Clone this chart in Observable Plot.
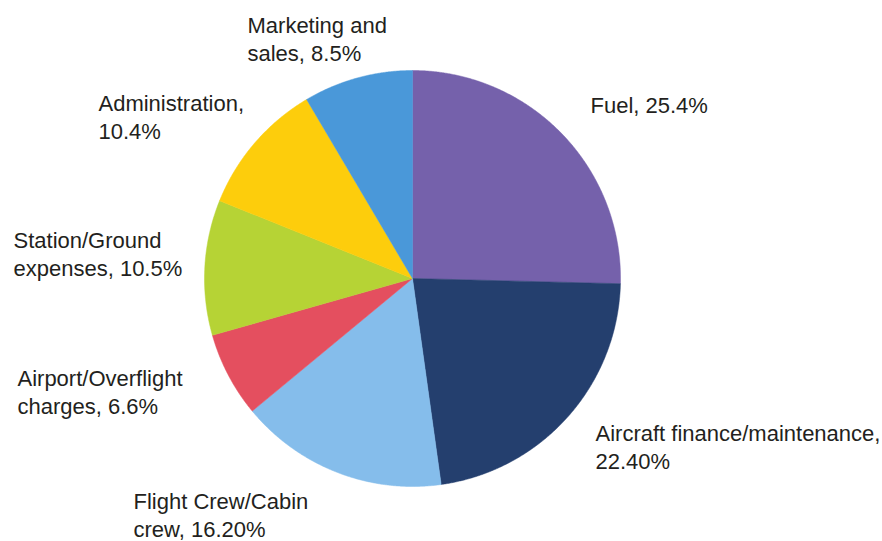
<!DOCTYPE html>
<html>
<head>
<meta charset="utf-8">
<script src="https://cdn.jsdelivr.net/npm/d3@7"></script>
<script src="https://cdn.jsdelivr.net/npm/@observablehq/plot@0.6"></script>
<style>
  html, body { margin: 0; padding: 0; background: #ffffff; }
  #chart { width: 882px; height: 541px; }
</style>
</head>
<body>
<div id="chart"></div>
<script>
// ---- data ----
const categories = ["Fuel", "Aircraft finance/maintenance", "Flight Crew/Cabin crew", "Airport/Overflight charges", "Station/Ground expenses", "Administration", "Marketing and sales"];
const shares = [25.4, 22.4, 16.2, 6.6, 10.5, 10.4, 8.5];
const labelTexts = ["Fuel, 25.4%", "Aircraft finance/maintenance,\n22.40%", "Flight Crew/Cabin\ncrew, 16.20%", "Airport/Overflight\ncharges, 6.6%", "Station/Ground\nexpenses, 10.5%", "Administration,\n10.4%", "Marketing and\nsales, 8.5%"];
const sliceColors = ["#7561ab", "#243f6e", "#85bdeb", "#e44f5f", "#b6d335", "#fdcd0c", "#4a98d9"];

// ---- layout (pixels) ----
const W = 882, H = 541;
const cx = 412, cy = 278, R = 208;
const labelPos = [[590, 92], [595, 420], [133, 488], [17, 365], [13, 227], [98, 90], [247, 12]];

// ---- build slice outlines from the data ----
const arcs = d3.pie().sort(null).value(d => d)(shares);
const slicePts = [];
arcs.forEach((a, i) => {
  const n = Math.max(2, Math.ceil((a.endAngle - a.startAngle) / 0.005));
  slicePts.push({cat: categories[i], x: cx, y: cy});
  for (let k = 0; k <= n; k++) {
    const t = a.startAngle + (a.endAngle - a.startAngle) * k / n;
    slicePts.push({cat: categories[i], x: cx + R * Math.sin(t), y: cy - R * Math.cos(t)});
  }
  slicePts.push({cat: categories[i], x: cx, y: cy});
});
const labels = categories.map((c, i) => ({cat: c, text: labelTexts[i], x: labelPos[i][0], y: labelPos[i][1]}));

const chart = Plot.plot({
  width: W,
  height: H,
  margin: 0,
  x: {domain: [0, W], range: [0, W], axis: null},
  y: {domain: [0, H], range: [0, H], axis: null},
  color: {domain: categories, range: sliceColors},
  style: {fontFamily: "'Liberation Sans', Arial, Helvetica, sans-serif", background: "#ffffff", overflow: "visible"},
  marks: [
    Plot.line(slicePts, {x: "x", y: "y", z: "cat", fill: "cat", stroke: "cat", strokeWidth: 0.5, curve: "linear"}),
    Plot.text(labels, {x: "x", y: "y", text: "text", textAnchor: "start", lineAnchor: "top", fontSize: 22, lineHeight: 1.29, fill: "#231f20"})
  ]
});
document.getElementById("chart").appendChild(chart);
</script>
</body>
</html>
